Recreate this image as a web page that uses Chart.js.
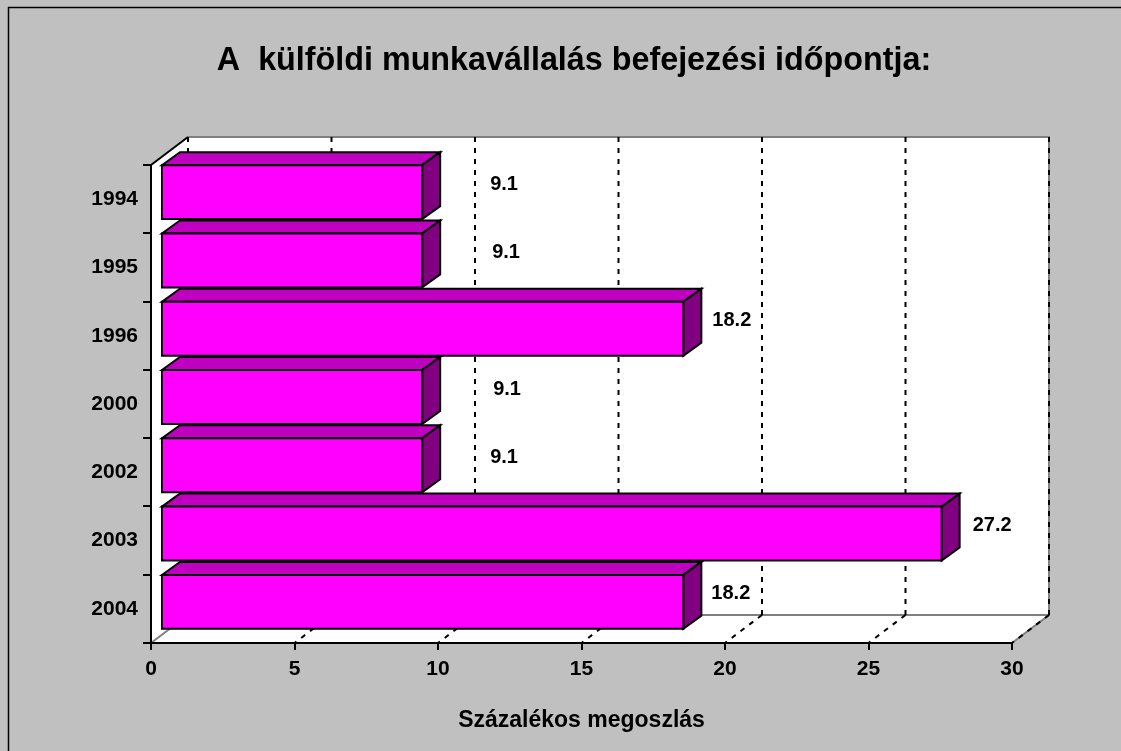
<!DOCTYPE html>
<html>
<head>
<meta charset="utf-8">
<script src="https://cdn.jsdelivr.net/npm/chart.js@4/dist/chart.umd.min.js"></script>
<style>
  html, body { margin: 0; padding: 0; background: #c0c0c0; }
  #c { display: block; }
</style>
</head>
<body>
<canvas id="c" width="1121" height="751"></canvas>
<script>
// Chart data
const years = ['1994', '1995', '1996', '2000', '2002', '2003', '2004'];
const shares = [9.1, 9.1, 18.2, 9.1, 9.1, 27.2, 18.2];
const valueTicks = [0, 5, 10, 15, 20, 25, 30];
const chartTitle = 'A  külföldi munkavállalás befejezési időpontja:';
const axisTitle = 'Százalékos megoszlás';

const FONT = "'Liberation Sans', Arial, sans-serif";

// Oblique 3D look: depth of the walls and of the bars (pixels)
const wallDepth = { dx: 37, dy: -28 };
const barDepth = { shiftX: 10, shiftY: -7, dx: 18, dy: -13 };
// horizontal gap between a bar's end and its value label
const labelGap = [50, 52, 11, 53, 50, 13, 10];

const scene3d = {
  id: 'scene3d',
  beforeDraw(chart) {
    const { ctx, chartArea: a, scales: { x } } = chart;
    const L = a.left, R = a.right, T = a.top, B = a.bottom;
    const dx = wallDepth.dx, dy = wallDepth.dy;
    ctx.save();
    ctx.fillStyle = '#c0c0c0';
    ctx.fillRect(0, 0, chart.width, chart.height);
    // frame of the chart
    ctx.strokeStyle = '#000';
    ctx.lineWidth = 1.5;
    ctx.strokeRect(8.5, 7.5, chart.width + 40, chart.height + 40);

    // side wall, back wall and floor
    ctx.fillStyle = '#fff';
    ctx.beginPath();
    ctx.moveTo(L, T);
    ctx.lineTo(L + dx, T + dy);
    ctx.lineTo(R + dx, T + dy);
    ctx.lineTo(R + dx, B + dy);
    ctx.lineTo(R, B);
    ctx.lineTo(L, B);
    ctx.closePath();
    ctx.fill();

    ctx.strokeStyle = '#808080';
    ctx.lineWidth = 2;
    ctx.beginPath();
    ctx.moveTo(L + dx, T + dy); ctx.lineTo(R + dx, T + dy); ctx.lineTo(R + dx, B + dy); ctx.lineTo(R, B);
    ctx.moveTo(L + dx, B + dy); ctx.lineTo(R + dx, B + dy);
    ctx.moveTo(L, B); ctx.lineTo(L + dx, B + dy);
    ctx.stroke();

    // dashed gridlines on the back wall and the floor
    ctx.strokeStyle = '#000';
    ctx.lineWidth = 2;
    ctx.setLineDash([5, 6]);
    valueTicks.forEach(v => {
      const px = x.getPixelForValue(v);
      ctx.beginPath();
      ctx.moveTo(px + dx, T + dy);
      ctx.lineTo(px + dx, B + dy);
      ctx.stroke();
      if (v !== valueTicks[0]) {
        ctx.beginPath();
        ctx.moveTo(px + dx, B + dy);
        ctx.lineTo(px, B);
        ctx.stroke();
      }
    });
    ctx.setLineDash([]);

    // upper edge of the side wall
    ctx.beginPath();
    ctx.moveTo(L, T);
    ctx.lineTo(L + dx, T + dy);
    ctx.stroke();
    ctx.restore();
  },
  afterDatasetsDraw(chart) {
    const ctx = chart.ctx;
    const meta = chart.getDatasetMeta(0);
    const ds = chart.data.datasets[0];
    ctx.save();
    ctx.lineWidth = 2;
    ctx.strokeStyle = '#000';
    ctx.lineJoin = 'miter';
    meta.data.forEach((el, i) => {
      const p = el.getProps(['x', 'y', 'base', 'height'], true);
      const x0 = p.base + barDepth.shiftX;
      const x1 = p.x + barDepth.shiftX;
      const yT = p.y + barDepth.shiftY - p.height / 2;
      const yB = yT + p.height;
      const dx = barDepth.dx, dy = barDepth.dy;

      // top face
      ctx.fillStyle = '#c000c0';
      ctx.beginPath();
      ctx.moveTo(x0, yT); ctx.lineTo(x1, yT); ctx.lineTo(x1 + dx, yT + dy); ctx.lineTo(x0 + dx, yT + dy);
      ctx.closePath(); ctx.fill(); ctx.stroke();
      // end face
      ctx.fillStyle = '#800080';
      ctx.beginPath();
      ctx.moveTo(x1, yT); ctx.lineTo(x1 + dx, yT + dy); ctx.lineTo(x1 + dx, yB + dy); ctx.lineTo(x1, yB);
      ctx.closePath(); ctx.fill(); ctx.stroke();
      // front face
      ctx.fillStyle = '#ff00ff';
      ctx.beginPath();
      ctx.rect(x0, yT, x1 - x0, yB - yT);
      ctx.fill(); ctx.stroke();
    });

    // value labels
    ctx.fillStyle = '#000';
    ctx.font = 'bold 20px ' + FONT;
    ctx.textAlign = 'left';
    ctx.textBaseline = 'middle';
    meta.data.forEach((el, i) => {
      const p = el.getProps(['x', 'y'], true);
      const lx = p.x + barDepth.shiftX + barDepth.dx + labelGap[i];
      const ly = p.y + barDepth.shiftY - 8;
      ctx.fillText(String(ds.data[i]), lx, ly);
    });
    ctx.restore();
  }
};

const tickFont = { family: FONT, size: 21, weight: 'bold' };

new Chart(document.getElementById('c'), {
  type: 'bar',
  data: {
    labels: years,
    datasets: [{
      data: shares,
      backgroundColor: 'rgba(0,0,0,0)',
      borderWidth: 0,
      barPercentage: 0.79,
      categoryPercentage: 1
    }]
  },
  options: {
    indexAxis: 'y',
    responsive: false,
    animation: false,
    devicePixelRatio: 1,
    events: [],
    layout: { padding: { left: 71, right: 44, top: 0, bottom: 0 } },
    plugins: {
      legend: { display: false },
      tooltip: { enabled: false },
      title: {
        display: true,
        text: chartTitle,
        color: '#000',
        font: { family: FONT, size: 32.3, weight: 'bold' },
        padding: { top: 42, bottom: 84.24 }
      }
    },
    scales: {
      x: {
        type: 'linear',
        min: 0,
        max: 30,
        ticks: { stepSize: 5, color: '#000', font: tickFont, padding: 7 },
        grid: { drawOnChartArea: false, drawTicks: true, tickLength: 7, color: '#000', lineWidth: 2 },
        border: { display: true, color: '#000', width: 2 },
        title: {
          display: true,
          text: axisTitle,
          color: '#000',
          font: { family: FONT, size: 23, weight: 'bold' },
          padding: { top: 0, bottom: 17 }
        },
        afterFit(scale) { scale.height = 108; }
      },
      y: {
        type: 'category',
        offset: true,
        ticks: { color: '#000', font: tickFont, padding: 5 },
        grid: { offset: true, drawOnChartArea: false, drawTicks: true, tickLength: 8, color: '#000', lineWidth: 2 },
        border: { display: true, color: '#000', width: 2 },
        afterFit(scale) { scale.width = 80; }
      },
      // empty margin on the right, keeps room for the wall depth
      yMargin: {
        type: 'category',
        position: 'right',
        offset: true,
        ticks: { display: false },
        grid: { display: false, drawTicks: false },
        border: { display: false },
        afterFit(scale) { scale.width = 65; }
      }
    }
  },
  plugins: [scene3d]
});
</script>
</body>
</html>
